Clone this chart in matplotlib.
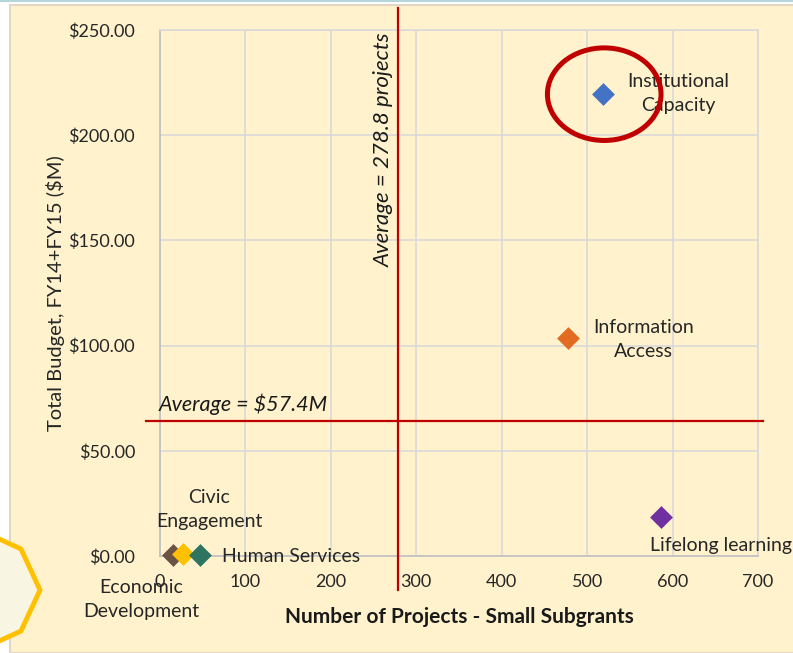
import matplotlib
matplotlib.use("Agg")
import matplotlib.pyplot as plt
from matplotlib.patches import Ellipse, Rectangle, Polygon
from matplotlib.lines import Line2D

plt.rcParams["font.family"] = ["Lato", "DejaVu Sans"]

# data
programs = ["Institutional\nCapacity", "Information\nAccess", "Lifelong learning",
            "Economic\nDevelopment", "Civic\nEngagement", "Human Services"]
projects = [518, 478, 587, 15, 27, 47]
budget = [219.5, 103.5, 18.5, 0.6, 0.8, 0.6]
colors = ["#4472C4", "#E46C22", "#7030A0", "#6B5344", "#FFC000", "#2E7460"]
# label offsets in pixels
offsets = [(76, 1), (75, -1), (60, -28), (-32, -45), (26, 45), (91, -2)]

avg_projects = 278.8
avg_budget = 57.4
avg_line_y = 64  # where the hand-drawn line sits on the chart

W, H = 793, 653
fig = plt.figure(figsize=(W / 100, H / 100), dpi=100)
fig.patch.set_facecolor("white")

# slide frame
fig.patches.append(Rectangle((10 / W, 0), 1, 1 - 5 / H, transform=fig.transFigure,
                             facecolor="#FFF2CC", edgecolor="#E2D6C6", lw=1.5, zorder=-10))
fig.add_artist(Line2D([0, 1], [1 - 1 / H, 1 - 1 / H], transform=fig.transFigure,
                      color="#B4D6DA", lw=1.5))
octo = [(-5, 537), (21, 549), (40, 590), (21, 631), (-5, 643)]
fig.patches.append(Polygon([(x / W, 1 - y / H) for x, y in octo], closed=False,
                           transform=fig.transFigure, facecolor="#F8F5E2",
                           edgecolor="#FFC000", lw=3.5, zorder=1))

ax = fig.add_axes([160 / W, 1 - 556 / H, 598 / W, 526 / H])
ax.set_facecolor("#FFF2CC")
ax.set_xlim(0, 700)
ax.set_ylim(0, 250)
ax.set_xticks(range(0, 701, 100))
ax.set_yticks(range(0, 251, 50))
ax.set_yticklabels([f"${v:.2f}" for v in range(0, 251, 50)])
ax.grid(True, color="#D9D9D9", lw=1.2)
ax.set_axisbelow(True)
for s in ax.spines.values():
    s.set_color("#D9D9D9")
    s.set_linewidth(1.2)
ax.spines["left"].set_color("#BFBFBF")
ax.spines["bottom"].set_color("#BFBFBF")
ax.tick_params(length=0, labelsize=13, colors="#262626")
ax.tick_params(axis="x", pad=13)
ax.tick_params(axis="y", pad=18)

ax.set_xlabel("Number of Projects - Small Subgrants", fontsize=15, fontweight="bold",
              color="#1a1a1a", labelpad=12)
ax.set_ylabel("Total Budget, FY14+FY15 ($M)", fontsize=14.5, color="#262626", labelpad=2)

for name, x, y, c, off in zip(programs, projects, budget, colors, offsets):
    ax.scatter(x, y, marker="D", s=135, color=c, zorder=4, clip_on=False, linewidths=0)
    ax.annotate(name, (x, y), xytext=off, textcoords="offset pixels",
                ha="center", va="center", fontsize=14, color="#262626",
                linespacing=1.5, zorder=5, annotation_clip=False)

# average lines
ax.plot([avg_projects, avg_projects], [260.5, -16], color="#C00000", lw=1.6,
        clip_on=False, zorder=3)
ax.plot([-16.5, 706], [avg_line_y, avg_line_y], color="#C00000", lw=1.6,
        clip_on=False, zorder=3)
ax.text(avg_projects - 5, 193, f"Average = {avg_projects} projects", rotation=90,
        ha="right", va="center", fontsize=16, style="italic", color="#1a1a1a")
ax.text(-2, avg_line_y + 3, f"Average = ${avg_budget}M", ha="left", va="bottom",
        fontsize=15.5, style="italic", color="#1a1a1a")

# highlight ring
i = 0
ax.add_patch(Ellipse((projects[i] + 2, budget[i]), 133, 44, fill=False,
                     edgecolor="#C00000", lw=3.6, zorder=6))

fig.savefig("out.png", dpi=100, facecolor=fig.get_facecolor())
